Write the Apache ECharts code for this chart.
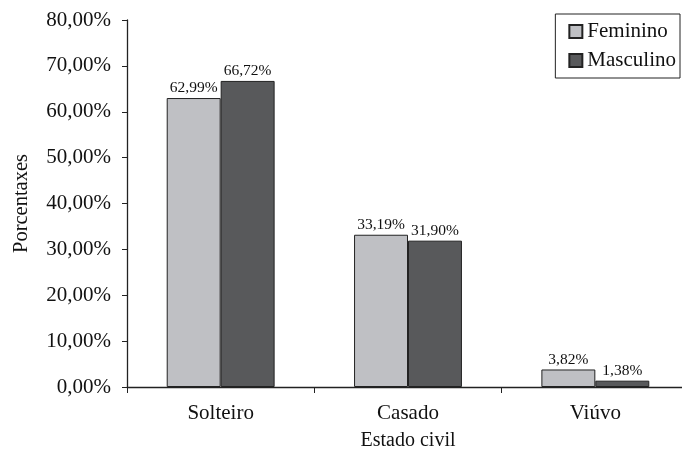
<!DOCTYPE html>
<html><head><meta charset="utf-8">
<script src="https://cdn.jsdelivr.net/npm/echarts@6/dist/echarts.min.js"></script>
<style>html,body{margin:0;padding:0;background:#fff}#c{width:682px;height:450px}</style>
</head><body><div id="c"></div>
<script>
const categories = ['Solteiro', 'Casado', 'Viúvo'];
const feminino = [62.99, 33.19, 3.82];
const masculino = [66.72, 31.90, 1.38];
const yTicks = [0, 10, 20, 30, 40, 50, 60, 70, 80];

const fmt = v => v.toFixed(2).replace('.', ',') + '%';
const font = 'Liberation Serif';
const chart = echarts.init(document.getElementById('c'));
chart.setOption({
  animation: false,
  backgroundColor: '#fff',
  textStyle: { fontFamily: font },
  grid: { left: 127, right: -7, top: 20, bottom: 63, outerBoundsMode: 'none' },
  legend: {
    right: 2, top: 14, orient: 'vertical', icon: 'rect',
    itemWidth: 13, itemHeight: 13, itemGap: 8,
    padding: [7, 4, 7, 13],
    borderColor: '#222', borderWidth: 1,
    textStyle: { fontFamily: font, fontSize: 21, color: '#111' },
    data: ['Feminino', 'Masculino']
  },
  xAxis: {
    type: 'category', data: categories,
    name: 'Estado civil', nameLocation: 'middle', nameGap: 44,
    nameTextStyle: { fontFamily: font, fontSize: 20, color: '#111' },
    axisLine: { lineStyle: { color: '#222', width: 1.3 } },
    axisTick: { show: true, length: 6, lineStyle: { color: '#222' } },
    axisLabel: { fontFamily: font, fontSize: 21, color: '#111', margin: 16 }
  },
  yAxis: {
    type: 'value', min: yTicks[0], max: yTicks[yTicks.length - 1], interval: 10,
    name: 'Porcentaxes', nameLocation: 'middle', nameGap: 95, nameRotate: 90,
    nameTextStyle: { fontFamily: font, fontSize: 20.5, color: '#111' },
    axisLine: { show: true, lineStyle: { color: '#222', width: 1.3 } },
    axisTick: { show: true, length: 5, lineStyle: { color: '#222' } },
    splitLine: { show: false },
    axisLabel: { fontFamily: font, fontSize: 21, color: '#111', margin: 16, formatter: v => fmt(v) }
  },
  series: [
    { name: 'Feminino', type: 'bar', data: feminino, barGap: '0%', barCategoryGap: '42.4%',
      itemStyle: { color: '#bfc0c4', borderColor: '#222', borderWidth: 1 },
      label: { show: true, position: 'top', distance: 2, fontFamily: font, fontSize: 15.5, color: '#111', formatter: p => fmt(p.value) } },
    { name: 'Masculino', type: 'bar', data: masculino, barGap: '0%', barCategoryGap: '42.4%',
      itemStyle: { color: '#58595b', borderColor: '#222', borderWidth: 1 },
      label: { show: true, position: 'top', distance: 2, fontFamily: font, fontSize: 15.5, color: '#111', formatter: p => fmt(p.value) } }
  ]
});
</script></body></html>
